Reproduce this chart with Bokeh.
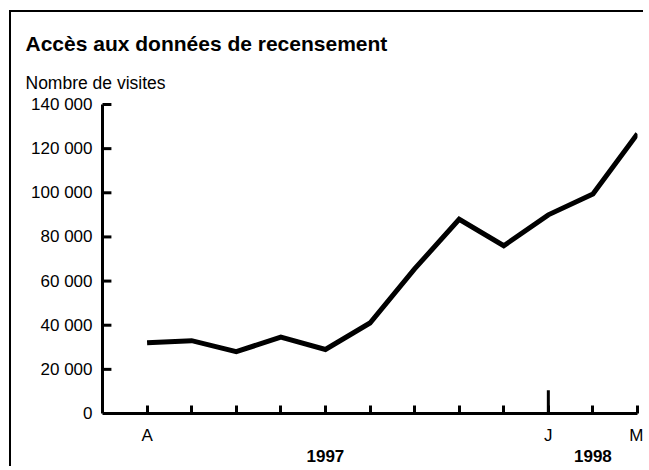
from bokeh.plotting import figure
from bokeh.models import FixedTicker, LinearAxis, Title, Range1d
from bokeh.embed import file_html
from bokeh.resources import INLINE

# Data
months = ["A", "M", "J", "J", "A", "S", "O", "N", "D", "J", "F", "M"]
visits = [32000, 33000, 28000, 34600, 29000, 41000, 65500, 88000, 76000, 90000, 99500, 126700]
shown_month_labels = {0: "A", 9: "J", 11: "M"}
years = ["1997", "1998"]
year_positions = [4, 10]
y_ticks = [0, 20000, 40000, 60000, 80000, 100000, 120000, 140000]
y_tick_labels = ["0", "20 000", "40 000", "60 000", "80 000", "100 000", "120 000", "140 000"]

FONT = "Liberation Sans"
x = list(range(len(months)))
x_start = -1

p = figure(width=634, height=456, output_backend="svg", toolbar_location=None,
           x_range=Range1d(x_start, len(months) - 1), y_range=Range1d(0, 140000),
           min_border_left=91, min_border_right=8, min_border_top=92, min_border_bottom=55,
           x_axis_location=None, y_axis_location=None,
           styles={"border-top": "2px solid black", "border-left": "2px solid black",
                   "margin-left": "9px", "margin-top": "10px", "margin-bottom": "-24px"})
p.outline_line_color = None
p.grid.visible = False
p.background_fill_color = "white"
p.border_fill_color = "white"

# Titles (first added is nearest the frame)
sub = Title(text="Nombre de visites", align="left", text_font=FONT, text_font_size="17.5px",
            text_font_style="normal", text_color="black", offset=-77, standoff=23)
p.add_layout(sub, "above")
ttl = Title(text="Accès aux données de recensement", align="left", text_font=FONT,
            text_font_size="21px", text_font_style="bold", text_color="black",
            offset=-77, standoff=10)
p.add_layout(ttl, "above")

# Y axis (labels + line); tick marks drawn inward below
yax = LinearAxis(ticker=FixedTicker(ticks=y_ticks),
                 major_label_overrides={t: l for t, l in zip(y_ticks, y_tick_labels)})
yax.axis_line_width = 3
yax.axis_line_color = "black"
yax.major_tick_line_color = None
yax.major_tick_in = 0
yax.major_tick_out = 0
yax.minor_tick_line_color = None
yax.major_label_standoff = 10
yax.major_label_text_font = FONT
yax.major_label_text_font_size = "17px"
yax.major_label_text_color = "black"
p.add_layout(yax, "left")

# inward y tick marks, from the tick list (drawn on the overlay level)
tick_len = 0.2  # in month units (~9px)
inner_ticks = y_ticks[1:]
p.segment(x0=[x_start] * len(inner_ticks), y0=inner_ticks,
          x1=[x_start + tick_len] * len(inner_ticks), y1=inner_ticks,
          line_color="black", line_width=3, level="overlay")

# X axis with month ticks
xax = LinearAxis(ticker=FixedTicker(ticks=x),
                 major_label_overrides={i: shown_month_labels.get(i, "") for i in x})
xax.axis_line_width = 3
xax.axis_line_color = "black"
xax.major_tick_line_width = 3
xax.major_tick_line_color = "black"
xax.major_tick_in = 8
xax.major_tick_out = 0
xax.minor_tick_line_color = None
xax.major_label_standoff = 12
xax.major_label_text_font = FONT
xax.major_label_text_font_size = "17px"
xax.major_label_text_color = "black"
p.add_layout(xax, "below")

# Year axis
yrax = LinearAxis(ticker=FixedTicker(ticks=year_positions),
                  major_label_overrides={pos: y for pos, y in zip(year_positions, years)})
yrax.axis_line_color = None
yrax.major_tick_line_color = None
yrax.minor_tick_line_color = None
yrax.major_label_standoff = -4
yrax.major_label_text_font = FONT
yrax.major_label_text_font_size = "17px"
yrax.major_label_text_font_style = "bold"
yrax.major_label_text_color = "black"
p.add_layout(yrax, "below")

# Longer tick marking the year change (January)
jan = 9
p.segment(x0=[jan], y0=[0], x1=[jan], y1=[10500], line_color="black", line_width=3)

# Data line
p.line(x, visits, line_color="black", line_width=5, line_join="miter")

open("out.html", "w").write(file_html(p, INLINE))
